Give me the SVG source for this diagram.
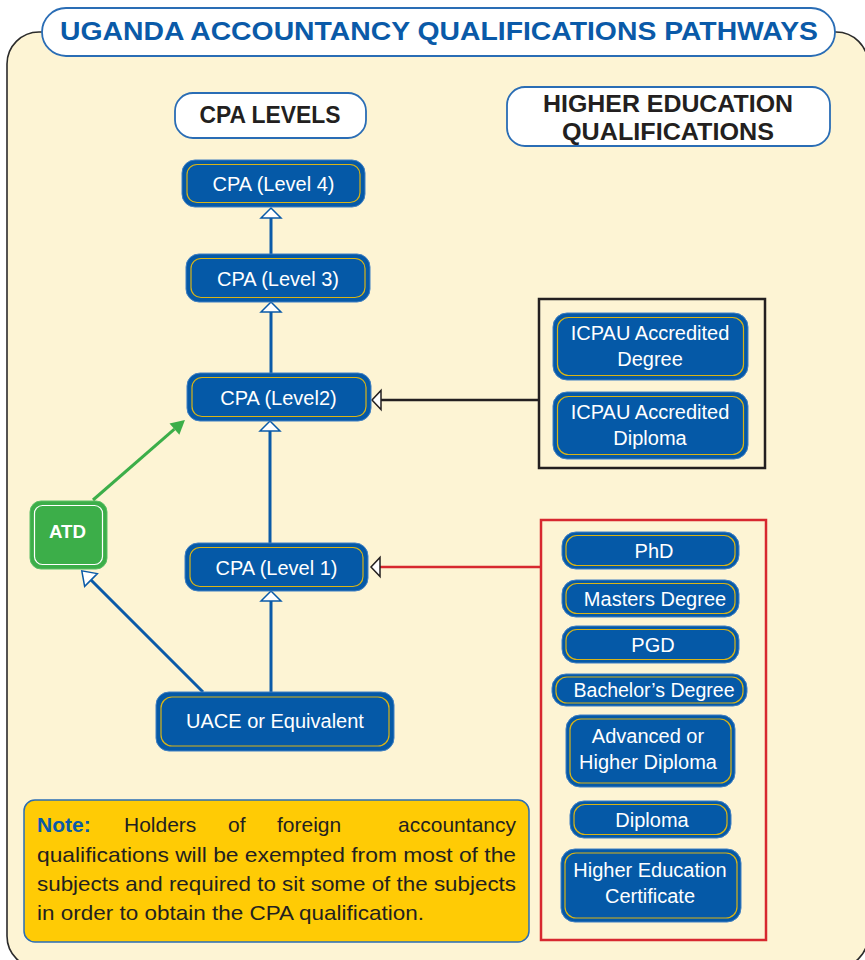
<svg xmlns="http://www.w3.org/2000/svg" width="865" height="960" viewBox="0 0 865 960">
<style>
.panel{fill:#fdf4d4;stroke:#2b2b2b;stroke-width:1.6}
.pill{fill:#fff;stroke:#2a6db5;stroke-width:1.8}
.ttl{font-family:"Liberation Sans",Arial,sans-serif;font-weight:bold;fill:#0a5aa8;font-size:26px}
.hd{font-family:"Liberation Sans",Arial,sans-serif;font-weight:bold;fill:#231f20;font-size:23px;text-anchor:middle}
.bo{fill:#0559a7;stroke:#3f7fc2;stroke-width:1}
.bi{fill:none;stroke:#d9b416;stroke-width:1.2}
.bt{font-family:"Liberation Sans",Arial,sans-serif;fill:#fff;font-size:20px;text-anchor:middle}
.go{fill:#3cae49;stroke:#5cbf66;stroke-width:1}
.gi{fill:none;stroke:#fff;stroke-width:1.2}
.gt{font-family:"Liberation Sans",Arial,sans-serif;font-weight:bold;fill:#fff;font-size:19px;text-anchor:middle}
.cb{stroke:#0a5aa8;stroke-width:3;fill:none}
.cg{stroke:#3cae49;stroke-width:3;fill:none}
.ck{stroke:#231f20;stroke-width:2.5;fill:none}
.cr{stroke:#d7282f;stroke-width:2.5;fill:none}
.nt{font-family:"Liberation Sans",Arial,sans-serif;fill:#231f20;font-size:21px}
</style>
<defs>
<marker id="hb" viewBox="-2 -12 16 24" refX="0" refY="0" markerWidth="16" markerHeight="24" markerUnits="userSpaceOnUse" orient="auto">
<path d="M0,-10 L10,0 L0,10 Z" fill="#fff" stroke="#0a5aa8" stroke-width="1.5"/>
</marker>
<marker id="hd" viewBox="-2 -12 17 24" refX="0" refY="0" markerWidth="17" markerHeight="24" markerUnits="userSpaceOnUse" orient="auto">
<path d="M0,-9 L13,0 L0,9 Z" fill="#fff" stroke="#0a5aa8" stroke-width="1.5"/>
</marker>
<marker id="hk" viewBox="-2 -12 14 24" refX="0" refY="0" markerWidth="14" markerHeight="24" markerUnits="userSpaceOnUse" orient="auto">
<path d="M0,-9.5 L9,0 L0,9.5 Z" fill="#fff" stroke="#231f20" stroke-width="1.5"/>
</marker>
<marker id="gf" viewBox="-1 -9 16 18" refX="0" refY="0" markerWidth="16" markerHeight="18" markerUnits="userSpaceOnUse" orient="auto">
<path d="M0,-7.5 L14,0 L0,7.5 Z" fill="#3cae49"/>
</marker>
</defs>
<rect width="865" height="960" fill="#fff"/>
<rect class="panel" x="7" y="32" width="861" height="936" rx="32"/>

<g id="title">
<rect class="pill" x="42" y="8" width="793" height="48" rx="24"/>
<text class="ttl" x="60" y="40" textLength="758" lengthAdjust="spacingAndGlyphs">UGANDA ACCOUNTANCY QUALIFICATIONS PATHWAYS</text>
</g>
<g id="cpa-levels-heading">
<rect class="pill" x="175" y="93" width="191" height="45" rx="18"/>
<text class="hd" x="270" y="123" textLength="141" lengthAdjust="spacingAndGlyphs">CPA LEVELS</text>
</g>
<g id="he-heading">
<rect class="pill" x="507" y="87" width="323" height="59" rx="18"/>
<text class="hd" x="668" y="112" textLength="250" lengthAdjust="spacingAndGlyphs">HIGHER EDUCATION</text>
<text class="hd" x="668" y="140" textLength="212" lengthAdjust="spacingAndGlyphs">QUALIFICATIONS</text>
</g>

<g id="atd">
<rect class="go" x="30" y="501" width="77" height="68" rx="11"/>
<rect class="gi" x="34.5" y="505.5" width="68" height="59" rx="8"/>
<text class="gt" x="67.5" y="538" textLength="37" lengthAdjust="spacingAndGlyphs">ATD</text>
</g>

<g id="connectors">
<line class="cb" x1="271" y1="254" x2="271" y2="218" marker-end="url(#hb)"/>
<line class="cb" x1="271" y1="373" x2="271" y2="312" marker-end="url(#hb)"/>
<line class="cb" x1="270" y1="543" x2="270" y2="431" marker-end="url(#hb)"/>
<line class="cb" x1="271" y1="692" x2="271" y2="601" marker-end="url(#hb)"/>
<line class="cb" x1="203" y1="692" x2="91" y2="580" marker-end="url(#hd)"/>
<line class="cg" x1="93" y1="500" x2="174.4" y2="429.2" marker-end="url(#gf)"/>
<line class="ck" x1="539" y1="400" x2="381" y2="400" marker-end="url(#hk)"/>
<line class="cr" x1="541" y1="567" x2="380" y2="567" marker-end="url(#hk)"/>
</g>

<g id="cpa4">
<rect class="bo" x="182" y="160" width="183" height="47" rx="13"/>
<rect class="bi" x="187" y="164.5" width="173" height="38" rx="10"/>
<text class="bt" x="273.5" y="191">CPA (Level 4)</text>
</g>
<g id="cpa3">
<rect class="bo" x="186" y="254" width="184" height="48" rx="13"/>
<rect class="bi" x="191" y="258.5" width="174" height="39" rx="10"/>
<text class="bt" x="278" y="286">CPA (Level 3)</text>
</g>
<g id="cpa2">
<rect class="bo" x="187" y="373" width="184" height="48" rx="13"/>
<rect class="bi" x="192" y="377.5" width="174" height="39" rx="10"/>
<text class="bt" x="278.5" y="405">CPA (Level2)</text>
</g>
<g id="cpa1">
<rect class="bo" x="185" y="543" width="183" height="48" rx="13"/>
<rect class="bi" x="190" y="547.5" width="173" height="39" rx="10"/>
<text class="bt" x="276.5" y="575">CPA (Level 1)</text>
</g>
<g id="uace">
<rect class="bo" x="156" y="692" width="238" height="59" rx="13"/>
<rect class="bi" x="161" y="697" width="228" height="49" rx="11"/>
<text class="bt" x="275" y="728">UACE or Equivalent</text>
</g>

<g id="icpau-group">
<rect x="539" y="299" width="226" height="169" fill="none" stroke="#231f20" stroke-width="2.5"/>
</g>
<g id="icpau-degree">
<rect class="bo" x="553" y="313" width="195" height="67" rx="14"/>
<rect class="bi" x="557.5" y="317.5" width="186" height="58" rx="11"/>
<text class="bt" x="650" y="340">ICPAU Accredited</text>
<text class="bt" x="650" y="366">Degree</text>
</g>
<g id="icpau-diploma">
<rect class="bo" x="553" y="392" width="195" height="67" rx="14"/>
<rect class="bi" x="557.5" y="396.5" width="186" height="58" rx="11"/>
<text class="bt" x="650" y="419">ICPAU Accredited</text>
<text class="bt" x="650" y="445">Diploma</text>
</g>

<g id="he-group">
<rect x="541" y="520" width="225" height="420" fill="none" stroke="#d7282f" stroke-width="2.5"/>
</g>
<g id="phd">
<rect class="bo" x="562" y="532" width="177" height="37" rx="14"/>
<rect class="bi" x="566" y="535.5" width="169" height="30" rx="11"/>
<text class="bt" x="654" y="558">PhD</text>
</g>
<g id="masters">
<rect class="bo" x="562" y="580" width="177" height="37" rx="14"/>
<rect class="bi" x="566" y="583.5" width="169" height="30" rx="11"/>
<text class="bt" x="655" y="606">Masters Degree</text>
</g>
<g id="pgd">
<rect class="bo" x="562" y="626" width="177" height="37" rx="14"/>
<rect class="bi" x="566" y="629.5" width="169" height="30" rx="11"/>
<text class="bt" x="653" y="652">PGD</text>
</g>
<g id="bachelors">
<rect class="bo" x="552" y="674" width="195" height="32" rx="14"/>
<rect class="bi" x="556" y="677" width="187" height="26" rx="11"/>
<text class="bt" x="654" y="697" textLength="161" lengthAdjust="spacingAndGlyphs">Bachelor’s Degree</text>
</g>
<g id="advanced">
<rect class="bo" x="566" y="715" width="169" height="72" rx="14"/>
<rect class="bi" x="570" y="719" width="161" height="64" rx="11"/>
<text class="bt" x="648" y="743">Advanced or</text>
<text class="bt" x="648" y="769">Higher Diploma</text>
</g>
<g id="diploma">
<rect class="bo" x="570" y="801" width="161" height="37" rx="14"/>
<rect class="bi" x="574" y="804.5" width="153" height="30" rx="11"/>
<text class="bt" x="652" y="827">Diploma</text>
</g>
<g id="hec">
<rect class="bo" x="561" y="849" width="180" height="73" rx="14"/>
<rect class="bi" x="565" y="853" width="172" height="65" rx="11"/>
<text class="bt" x="650" y="877">Higher Education</text>
<text class="bt" x="650" y="903">Certificate</text>
</g>

<g id="note">
<rect x="24" y="800" width="505" height="142" rx="11" fill="#ffcb05" stroke="#2a6db5" stroke-width="1.5"/>
<text class="nt" x="37" y="832" font-weight="bold" style="fill:#0a5aa8">Note:</text>
<text class="nt" x="124" y="832">Holders</text>
<text class="nt" x="228" y="832">of</text>
<text class="nt" x="277" y="832">foreign</text>
<text class="nt" x="516" y="832" text-anchor="end">accountancy</text>
<text class="nt" x="37" y="862" textLength="479" lengthAdjust="spacingAndGlyphs">qualifications  will be exempted from most of the</text>
<text class="nt" x="37" y="891" textLength="479" lengthAdjust="spacingAndGlyphs">subjects and required to sit some of the subjects</text>
<text class="nt" x="37" y="920" textLength="387" lengthAdjust="spacingAndGlyphs">in order to obtain the CPA qualification.</text>
</g>
</svg>
